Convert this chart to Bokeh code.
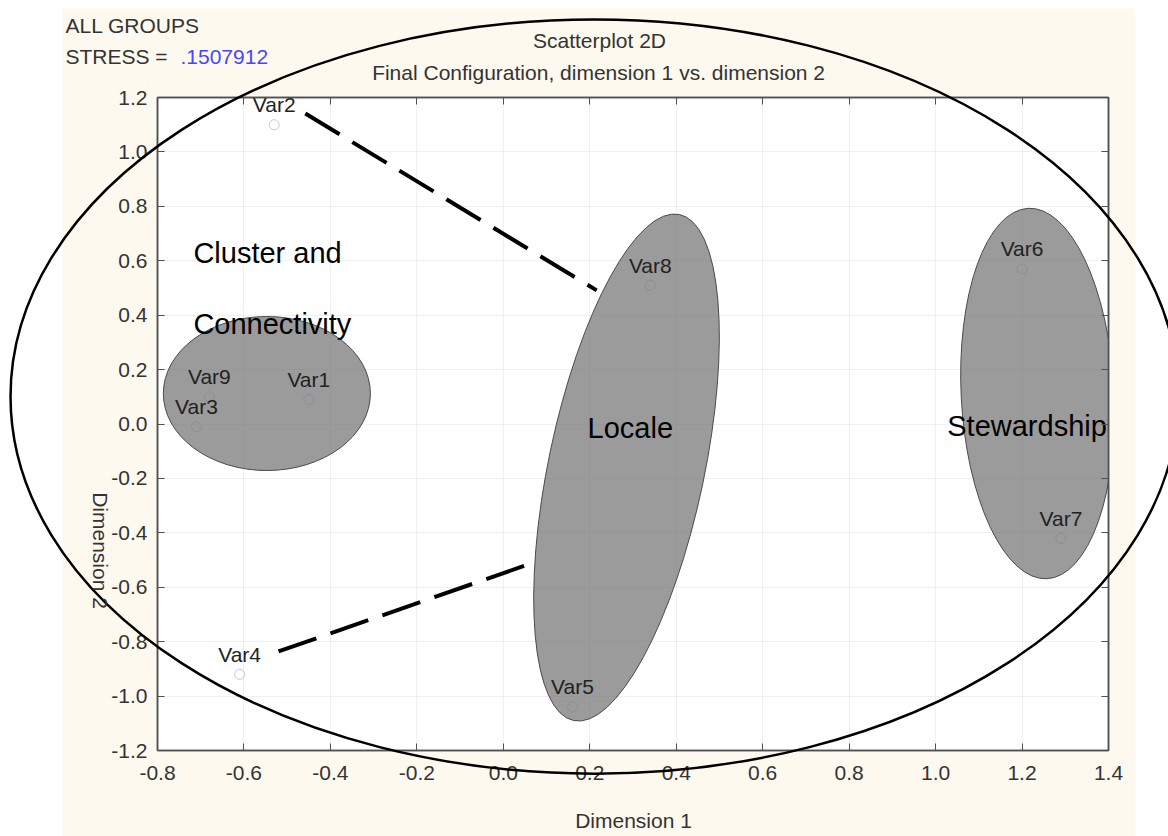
import numpy as np
from bokeh.plotting import figure
from bokeh.models import (Range1d, LinearAxis, FixedTicker, PrintfTickFormatter, Label,
                          BoxAnnotation, ColumnDataSource)
from bokeh.core.properties import value
from bokeh.embed import file_html
from bokeh.resources import INLINE

# ---------------- data ----------------
var_names = ["Var1", "Var2", "Var3", "Var4", "Var5", "Var6", "Var7", "Var8", "Var9"]
dim1 = [-0.45, -0.53, -0.71, -0.61, 0.16, 1.20, 1.29, 0.34, -0.68]
dim2 = [0.09, 1.10, -0.01, -0.92, -1.04, 0.57, -0.42, 0.51, 0.10]

x_ticks = [-0.8, -0.6, -0.4, -0.2, 0.0, 0.2, 0.4, 0.6, 0.8, 1.0, 1.2, 1.4]
y_ticks = [-1.2, -1.0, -0.8, -0.6, -0.4, -0.2, 0.0, 0.2, 0.4, 0.6, 0.8, 1.0, 1.2]

# grouping ellipses (centre, width, height, angle in degrees)
group_cx = [-0.547, 0.285, 1.236]
group_cy = [0.112, -0.160, 0.112]
group_w = [0.479, 1.196, 0.858]
group_h = [0.566, 0.573, 0.562]
group_angle = [0.0, 78.2, 92.9]

group_text = ["Cluster and", "Connectivity", "Locale", "Stewardship"]
group_text_x = [-0.717, -0.717, 0.195, 1.027]
group_text_y = [0.627, 0.369, -0.013, -0.006]

# dashed connectors
conn_x0 = [-0.458, -0.520]
conn_y0 = [1.141, -0.836]
conn_x1 = [0.216, 0.058]
conn_y1 = [0.491, -0.516]

# enclosing ellipse
outer_cx, outer_cy, outer_rx, outer_ry = 0.211, 0.101, 1.351, 1.386

stress_value = ".1507912"

FONT = "Liberation Sans"
W, H = 1168, 836
FL, FR, FT, FB = 157, 1108, 97, 750          # frame edges in page pixels
X0, X1, Y0, Y1 = -0.8, 1.4, -1.2, 1.2


def px2x(px):
    return X0 + (px - FL) * (X1 - X0) / (FR - FL)


def py2y(py):
    return Y1 - (py - FT) * (Y1 - Y0) / (FB - FT)


# ---------------- main chart ----------------
p = figure(width=W, height=H,
           x_range=Range1d(X0, X1), y_range=Range1d(Y0, Y1),
           output_backend="svg", toolbar_location=None,
           min_border_left=FL, min_border_right=W - FR,
           min_border_top=FT, min_border_bottom=H - FB,
           background_fill_color="white", border_fill_color="#fdf9ee",
           outline_line_color="#505050", outline_line_width=1.5)

for ax in (p.xaxis[0], p.yaxis[0]):
    ax.formatter = PrintfTickFormatter(format="%.1f")
    ax.axis_line_color = "#505050"
    ax.axis_line_width = 1.5
    ax.major_tick_line_color = "#505050"
    ax.major_tick_in = 7
    ax.major_tick_out = 0
    ax.minor_tick_line_color = None
    ax.major_label_text_font = FONT
    ax.major_label_text_font_size = "21px"
    ax.major_label_text_color = "#333333"
p.xaxis[0].ticker = FixedTicker(ticks=x_ticks)
p.yaxis[0].ticker = FixedTicker(ticks=y_ticks)
p.xaxis[0].major_label_standoff = 15
p.yaxis[0].major_label_standoff = 10

for loc, ticks in (("above", x_ticks), ("right", y_ticks)):
    ax = LinearAxis(ticker=FixedTicker(ticks=ticks), major_label_text_color=None,
                    major_label_standoff=0, major_tick_in=7, major_tick_out=0,
                    minor_tick_line_color=None, axis_line_color="#505050",
                    axis_line_width=1.5, major_tick_line_color="#505050")
    p.add_layout(ax, loc)

p.xgrid.ticker = FixedTicker(ticks=x_ticks)
p.ygrid.ticker = FixedTicker(ticks=y_ticks)
p.grid.grid_line_color = "#f0f0f0"

src = ColumnDataSource(dict(x=dim1, y=dim2, name=var_names))
p.scatter("x", "y", source=src, size=10, marker="circle", fill_color=None,
          line_color="#c4c4f0", line_width=1)

p.ellipse(x=group_cx, y=group_cy, width=group_w, height=group_h, angle=group_angle,
          angle_units="deg", fill_color="#7a7a7a", fill_alpha=0.75,
          line_color="#4a4a4a", line_width=1)

p.text("x", "y", text="name", source=src, text_font=value(FONT),
       text_font_size=value("21px"), text_align="center", text_baseline="middle",
       y_offset=-20, text_color="#222222")

p.segment(x0=conn_x0, y0=conn_y0, x1=conn_x1, y1=conn_y1, line_color="black",
          line_width=4, line_dash="40 15")

p.text(x=group_text_x, y=group_text_y, text=group_text, text_font=value(FONT),
       text_font_size=value("29px"), text_align="left", text_baseline="middle",
       text_color="black")

# ---------------- overlay: page strips, enclosing ellipse, headers ----------------
ov = figure(width=W, height=H,
            x_range=Range1d(px2x(0), px2x(W)), y_range=Range1d(py2y(H), py2y(0)),
            output_backend="svg", toolbar_location=None, min_border=0,
            x_axis_type=None, y_axis_type=None,
            background_fill_color=None, border_fill_color=None, outline_line_color=None,
            styles={"position": "absolute", "top": "0px", "left": "0px", "z-index": "5"})
ov.grid.visible = False

for kw in (dict(right=px2x(62)), dict(left=px2x(1135)), dict(bottom=py2y(8))):
    ov.add_layout(BoxAnnotation(fill_color="white", fill_alpha=1, line_color=None,
                                level="underlay", **kw))

ov.ellipse(x=[outer_cx], y=[outer_cy], width=[2 * outer_rx], height=[2 * outer_ry],
           fill_color=None, line_color="black", line_width=2.5)


def lab(px, py, text, size="21px", color="#333333", align="left", angle=0.0):
    ov.add_layout(Label(x=px2x(px), y=py2y(py), text=text, text_font=FONT,
                        text_font_size=size, text_color=color, text_align=align,
                        text_baseline="middle", angle=angle))


lab(65, 25, "ALL GROUPS")
lab(65, 56, "STRESS = ")
lab(180, 56, stress_value, color="#4646ff")
lab(599, 40, "Scatterplot 2D", align="center")
lab(601, 72, "Final Configuration, dimension 1  vs. dimension 2", align="center")
lab(633, 820, "Dimension 1", align="center")
lab(100, 550, "Dimension 2", align="center", angle=-np.pi / 2)

open("out.html", "w").write(file_html([p, ov], INLINE))
